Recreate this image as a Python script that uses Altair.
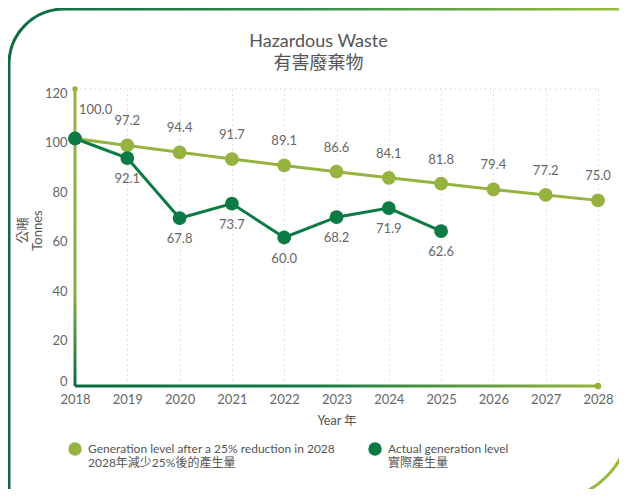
import altair as alt
import pandas as pd

# ---- data ----
years = [2018, 2019, 2020, 2021, 2022, 2023, 2024, 2025, 2026, 2027, 2028]
target_values = [100.0, 97.2, 94.4, 91.7, 89.1, 86.6, 84.1, 81.8, 79.4, 77.2, 75.0]
actual_years = [2018, 2019, 2020, 2021, 2022, 2023, 2024, 2025]
actual_values = [100.0, 92.1, 67.8, 73.7, 60.0, 68.2, 71.9, 62.6]
series_names = [
    "Generation level after a 25% reduction in 2028|2028年減少25%後的產生量",
    "Actual generation level|實際產生量",
]
y_ticks = [0, 20, 40, 60, 80, 100, 120]
x_domain = [2018, 2028]
y_domain = [0, 120]

rows = [{"year": y, "value": v, "series": series_names[0]} for y, v in zip(years, target_values)]
rows += [{"year": y, "value": v, "series": series_names[1]} for y, v in zip(actual_years, actual_values)]
df = pd.DataFrame(rows)
one = pd.DataFrame({"k": [0]})
ends = pd.DataFrame({"year": [x_domain[0], x_domain[1]], "value": [y_domain[1], y_domain[0]], "sz": [28, 45]})

FONT = "Lato, 'Noto Sans CJK TC', sans-serif"
C_GEN = "#97B33F"
C_ACT = "#0B7A45"
C_DARK = "#0B6B3E"
TXT = "#666666"

xscale = alt.Scale(domain=x_domain, nice=False, zero=False)
yscale = alt.Scale(domain=y_domain, nice=False)

x_enc = alt.X(
    "year:Q", scale=xscale,
    axis=alt.Axis(values=years, format="d", title="Year 年", grid=True, gridDash=[1, 4],
                  gridColor="#c4c4c4", domain=False, ticks=False, labelFontSize=13,
                  labelColor=TXT, labelPadding=7, labelFont=FONT, titleFont=FONT,
                  labelFlush=False, labelOverlap=False,
                  titleFontSize=12.5, titleFontWeight="normal", titleColor="#555555",
                  titlePadding=8),
)
y_enc = alt.Y(
    "value:Q", scale=yscale,
    axis=alt.Axis(values=y_ticks, title=["公噸", "Tonnes"], grid=False, domain=False, ticks=False,
                  labelFontSize=13, labelColor=TXT, labelPadding=8, labelFont=FONT, titleFont=FONT,
                  labelFlush=False, labelOverlap=False, titleLineHeight=15,
                  labelOffset=alt.condition("datum.value == 0", alt.value(-5), alt.value(4)),
                  titleY=141,
                  titleFontSize=13, titleFontWeight="normal", titleColor="#555555", titlePadding=0),
)
color_scale = alt.Scale(domain=series_names, range=[C_GEN, C_ACT])

base = alt.Chart(df).encode(x=x_enc, y=y_enc)

frame = alt.Chart(one).mark_rect(
    fill="transparent",
    stroke=alt.LinearGradient(gradient="linear", x1=0, x2=1, y1=0, y2=0,
                              stops=[alt.GradientStop(offset=0, color=C_DARK),
                                     alt.GradientStop(offset=0.45, color="#2E8A4E"),
                                     alt.GradientStop(offset=1, color="#9CBE3E")]),
    strokeWidth=3, cornerRadiusTopLeft=55, cornerRadiusBottomRight=80,
).encode(x=alt.value(-66), x2=alt.value(555), y=alt.value(-80), y2=alt.value(411))

y_axis_line = alt.Chart(one).mark_rect(
    xOffset=-1.5, x2Offset=1.5,
    fill=alt.LinearGradient(gradient="linear", x1=0, x2=0, y1=0, y2=1,
                            stops=[alt.GradientStop(offset=0, color=C_GEN),
                                   alt.GradientStop(offset=0.7, color="#7FAE45"),
                                   alt.GradientStop(offset=1, color=C_DARK)]),
).encode(x=alt.X(datum=x_domain[0], scale=xscale), x2=alt.X2(datum=x_domain[0]),
         y=alt.Y(datum=y_domain[0], scale=yscale), y2=alt.Y2(datum=y_domain[1]))

x_axis_line = alt.Chart(one).mark_rect(
    yOffset=-1.5, y2Offset=1.5,
    fill=alt.LinearGradient(gradient="linear", x1=0, x2=1, y1=0, y2=0,
                            stops=[alt.GradientStop(offset=0, color=C_DARK),
                                   alt.GradientStop(offset=0.45, color="#137A45"),
                                   alt.GradientStop(offset=1, color=C_GEN)]),
).encode(x=alt.X(datum=x_domain[0], scale=xscale), x2=alt.X2(datum=x_domain[1]),
         y=alt.Y(datum=y_domain[0], scale=yscale), y2=alt.Y2(datum=y_domain[0]))

top_grid = alt.Chart(one).mark_rule(strokeDash=[1, 4], color="#c4c4c4", strokeWidth=1).encode(
    x=alt.X(datum=x_domain[0], scale=xscale), x2=alt.X2(datum=x_domain[1]),
    y=alt.Y(datum=y_domain[1], scale=yscale))

end_dots = alt.Chart(ends).mark_circle(color=C_GEN, opacity=1).encode(
    x=alt.X("year:Q", scale=xscale), y=alt.Y("value:Q", scale=yscale),
    size=alt.Size("sz:Q", scale=None, legend=None))

gen_line = base.transform_filter(alt.datum.series == series_names[0]).mark_line(
    strokeWidth=3, color=C_GEN)
act_line = base.transform_filter(alt.datum.series == series_names[1]).mark_line(
    strokeWidth=3, color=C_ACT)

points = base.mark_circle(size=190, opacity=1).encode(
    color=alt.Color("series:N", scale=color_scale,
                    legend=alt.Legend(title=None, orient="none", legendX=-7, legendY=353,
                                      direction="horizontal", symbolType="circle", symbolSize=180,
                                      labelExpr="split(datum.label, '|')", labelFont=FONT,
                                      labelFontSize=12, labelColor="#555555", labelLimit=400,
                                      columnPadding=32, labelOffset=6, labelBaseline="middle",
                                      symbolStrokeWidth=0)))

gen_labels = base.transform_filter(
    (alt.datum.series == series_names[0]) & (alt.datum.year > 2018)
).mark_text(dy=-24, font=FONT, fontSize=13, color=TXT).encode(text=alt.Text("value:Q", format=".1f"))

first_label = base.transform_filter(
    (alt.datum.series == series_names[0]) & (alt.datum.year == 2018)
).mark_text(dy=-29, dx=4, align="left", font=FONT, fontSize=13, color=TXT).encode(
    text=alt.Text("value:Q", format=".1f"))

act_labels = base.transform_filter(
    (alt.datum.series == series_names[1]) & (alt.datum.year > 2018)
).mark_text(dy=21, font=FONT, fontSize=13, color=TXT).encode(text=alt.Text("value:Q", format=".1f"))

chart = alt.layer(
    frame, top_grid, y_axis_line, x_axis_line, end_dots, gen_line, act_line, points,
    gen_labels, first_label, act_labels
).properties(
    width=523, height=297,
    autosize=alt.AutoSizeParams(type="none"),
    padding={"left": 67, "top": 81, "right": 21, "bottom": 103},
    title=alt.TitleParams(text=["Hazardous Waste", "有害廢棄物"], font=FONT, fontSize=18,
                          fontWeight="normal", color="#555555", lineHeight=22, anchor="middle",
                          frame="group", dx=-18, offset=-65),
    background="white",
).configure_view(strokeWidth=0)

chart.save("out.html", embed_options={"renderer": "svg", "actions": False})
